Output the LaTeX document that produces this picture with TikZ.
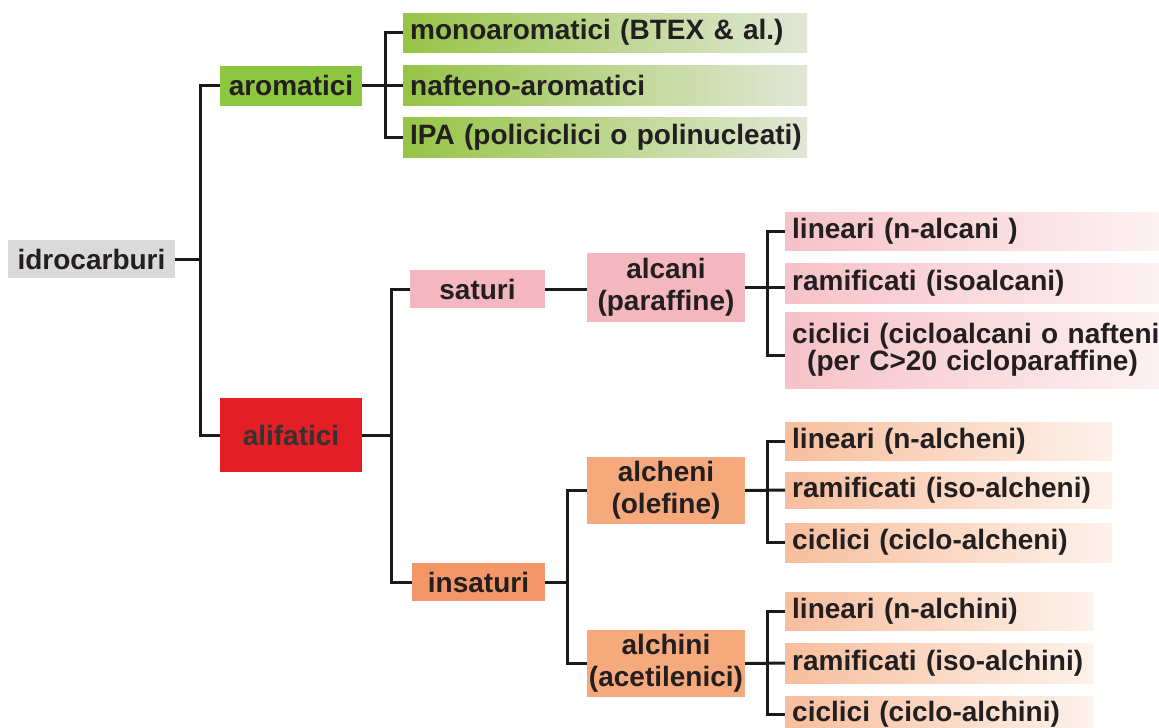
\documentclass[tikz,border=0pt]{standalone}
\usepackage{fontspec}
\setmainfont{Liberation Sans}
\definecolor{txt}{HTML}{231F20}
\definecolor{linec}{HTML}{1A1A1A}
\definecolor{greyc}{HTML}{DADADA}
\definecolor{greenc}{HTML}{8DC63F}
\definecolor{greenL}{HTML}{96C446}
\definecolor{greenR}{HTML}{E2E7D6}
\definecolor{redc}{HTML}{E31E24}
\definecolor{pinkc}{HTML}{F4B7C0}
\definecolor{pinkL}{HTML}{F6C1C8}
\definecolor{pinkR}{HTML}{FDF4F5}
\definecolor{orangec}{HTML}{F39766}
\definecolor{orangeb}{HTML}{F5A97C}
\definecolor{orangeL}{HTML}{F7BE9D}
\definecolor{orangeR}{HTML}{FDF2EB}
\begin{document}
\begin{tikzpicture}[x=1pt,y=-1pt,
  base/.style={inner sep=0pt, font=\fontsize{28}{32}\selectfont\bfseries, text=txt, align=center},
  idrobox/.style={base, fill=greyc},
  arombox/.style={base, fill=greenc},
  alifbox/.style={base, fill=redc, text=black!80},
  pinkbox/.style={base, fill=pinkc},
  orangebox/.style={base, fill=orangec},
  orangebbox/.style={base, fill=orangeb},
  kid/.style={base, anchor=west, align=left, inner xsep=7pt},
  kidg/.style={kid, left color=greenL, right color=greenR},
  kidp/.style={kid, left color=pinkL, right color=pinkR},
  kido/.style={kid, left color=orangeL, right color=orangeR},
  conn/.style={draw=linec, line width=3pt}
]
\fill[white] (0,0) rectangle (1159,728);
\useasboundingbox (0,0) rectangle (1159,728);

% level 0/1
\node[idrobox, minimum width=167pt, minimum height=38pt] (idro) at (91.5,259) {idrocarburi};
\node[arombox, minimum width=142pt, minimum height=40pt] (arom) at (291,85.5) {aromatici};
\node[alifbox, minimum width=142pt, minimum height=74pt] (alif) at (291,435) {alifatici};

% aromatic children
\node[kidg, minimum height=39pt, text width=390pt] (mono) at (403,32.5) {\mbox{monoaromatici (BTEX \& al.)}};
\node[kidg, minimum height=40pt, text width=390pt] (naft) at (403,85.5) {\mbox{nafteno-aromatici}};
\node[kidg, minimum height=40pt, text width=390pt] (ipa) at (403,137) {\mbox{IPA (policiclici o polinucleati)}};

% aliphatic
\node[pinkbox, minimum width=135pt, minimum height=38pt] (sat) at (477.5,289) {saturi};
\node[orangebox, minimum width=133pt, minimum height=38pt] (insat) at (478.5,582) {insaturi};
\node[pinkbox, minimum width=158pt, minimum height=69pt] (alc) at (666,287) {alcani\\(paraffine)};
\node[orangebbox, minimum width=158pt, minimum height=67pt] (alch) at (666,490.5) {alcheni\\(olefine)};
\node[orangebbox, minimum width=158pt, minimum height=67pt] (alchi) at (666,663.5) {alchini\\(acetilenici)};

% alcani children
\node[kidp, minimum height=38pt, text width=380pt] (plin) at (785,231) {lineari (n-alcani )};
\node[kidp, minimum height=40pt, text width=380pt] (pram) at (785,283) {ramificati (isoalcani)};
\node[kidp, minimum height=76pt, text width=380pt, font=\fontsize{28}{26}\selectfont\bfseries] (pcic) at (785,350) {\mbox{ciclici (cicloalcani o nafteni}\\\hspace*{15pt}\mbox{(per C>20 cicloparaffine)}};

% alcheni children
\node[kido, minimum height=38pt, text width=313pt] (elin) at (785,441) {lineari (n-alcheni)};
\node[kido, minimum height=36pt, text width=313pt] (eram) at (785,490) {\mbox{ramificati (iso-alcheni)}};
\node[kido, minimum height=39pt, text width=313pt] (ecic) at (785,542.5) {ciclici (ciclo-alcheni)};

% alchini children
\node[kido, minimum height=38pt, text width=294pt] (ilin) at (785,611) {lineari (n-alchini)};
\node[kido, minimum height=40pt, text width=294pt] (iram) at (785,663) {\mbox{ramificati (iso-alchini)}};
\node[kido, minimum height=36pt, text width=294pt] (icic) at (785,714) {ciclici (ciclo-alchini)};

% bracket x positions
\coordinate (t0) at (200,0);
\coordinate (t1) at (385,0);
\coordinate (t2) at (391,0);
\coordinate (t3) at (567,0);
\coordinate (t4) at (767,0);

% connectors
\draw[conn] (idro.east) -- (idro.east -| t0);
\draw[conn] (arom.west) -- (arom.west -| t0) -- (alif.west -| t0) -- (alif.west);

\draw[conn] (arom.east) -- (naft.west);
\draw[conn] (mono.west) -- (mono.west -| t1) -- (ipa.west -| t1) -- (ipa.west);

\draw[conn] (alif.east) -- (alif.east -| t2);
\draw[conn] (sat.west) -- (sat.west -| t2) -- (insat.west -| t2) -- (insat.west);

\draw[conn] (sat.east) -- (sat.east -| alc.west);
\draw[conn] (alc.east) -- (alc.east -| pram.west);
\draw[conn] (plin.west) -- (plin.west -| t4) -- ([yshift=-5pt]pcic.west -| t4) -- ([yshift=-5pt]pcic.west);

\draw[conn] (insat.east) -- (insat.east -| t3);
\draw[conn] (alch.west) -- (alch.west -| t3) -- (alchi.west -| t3) -- (alchi.west);

\draw[conn] (alch.east) -- (eram.west);
\draw[conn] (elin.west) -- (elin.west -| t4) -- (ecic.west -| t4) -- (ecic.west);

\draw[conn] (alchi.east) -- (iram.west);
\draw[conn] (ilin.west) -- (ilin.west -| t4) -- (icic.west -| t4) -- (icic.west);
\end{tikzpicture}
\end{document}
